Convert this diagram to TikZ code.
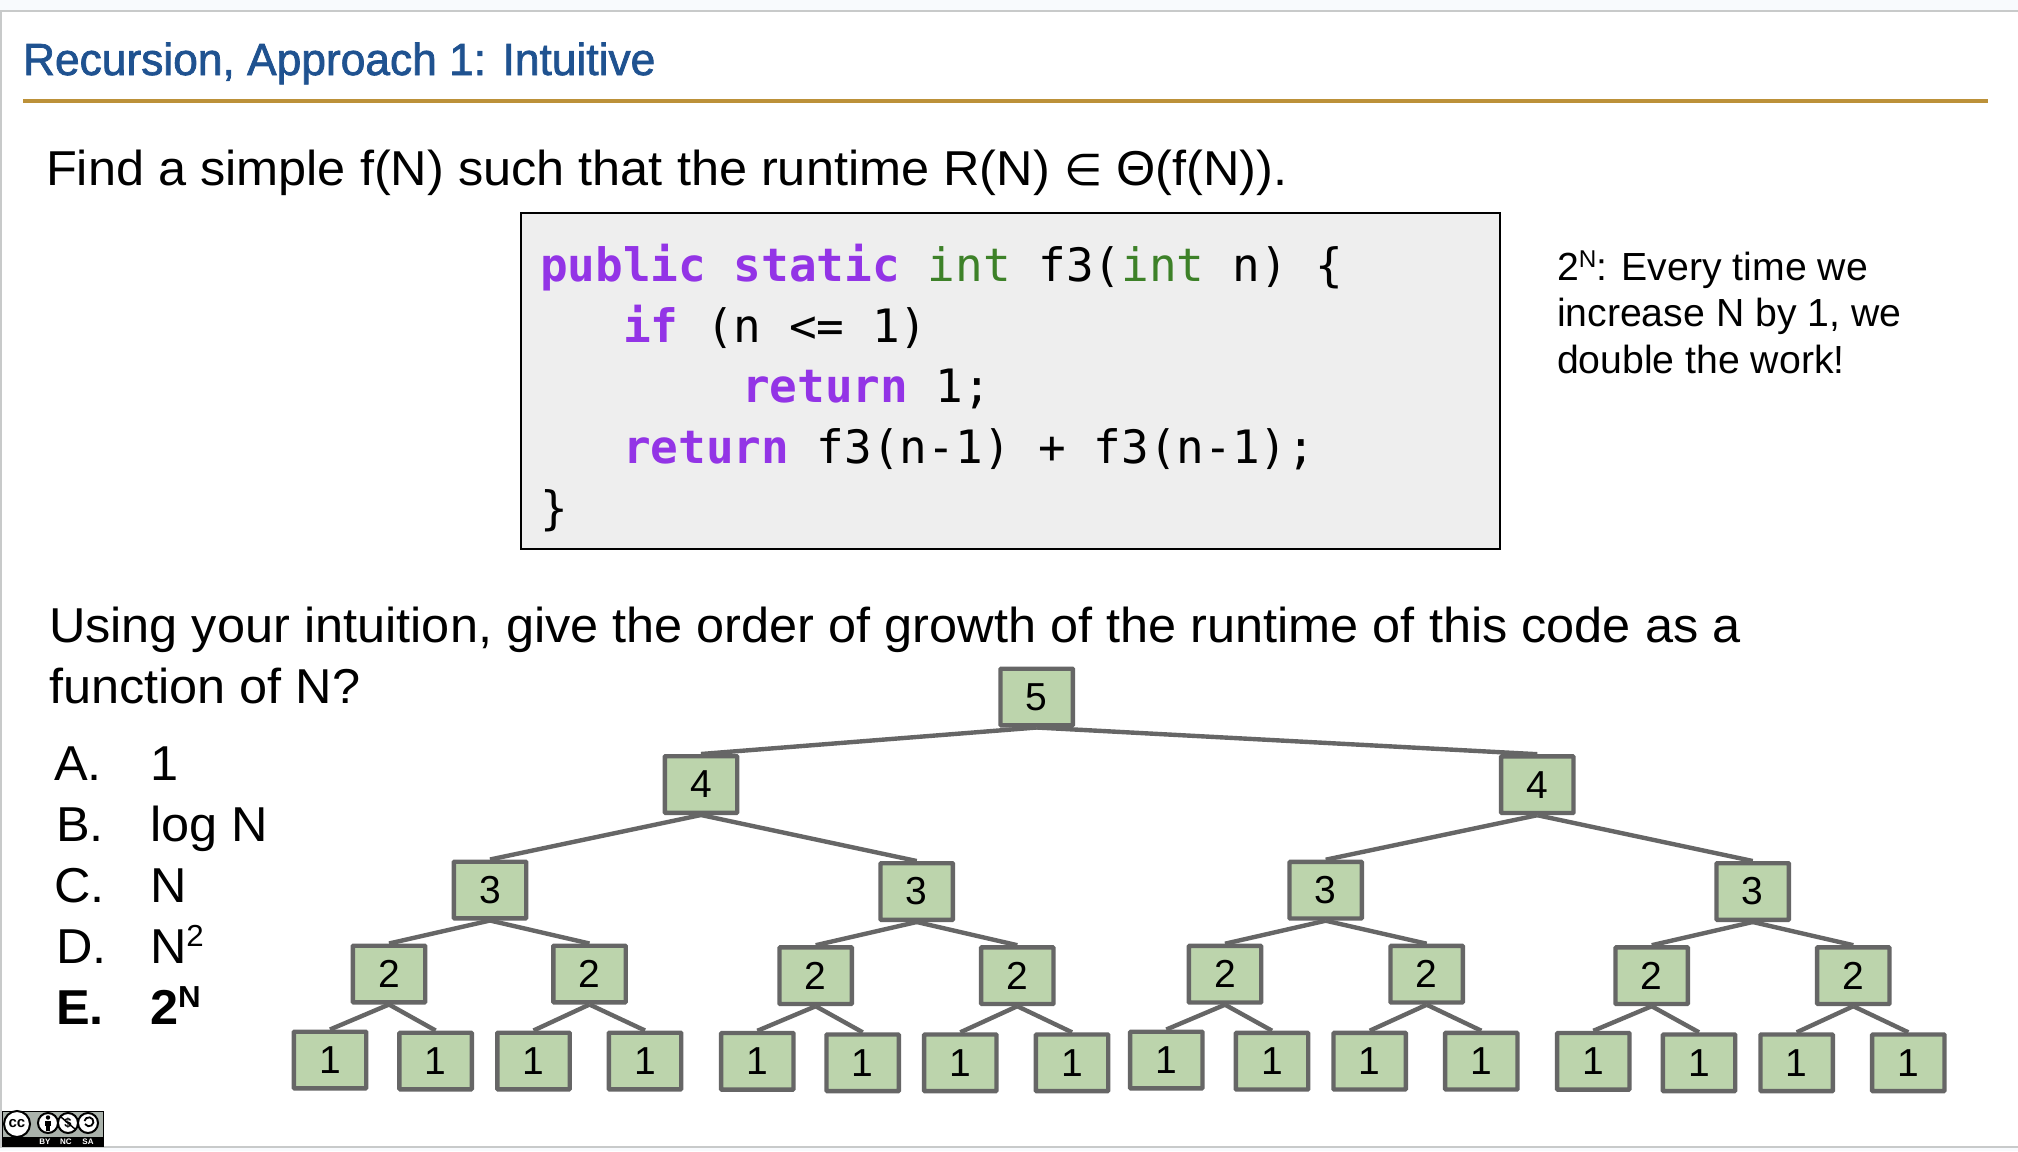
\documentclass[tikz,border=0pt]{standalone}
\usepackage{fontspec}
\setmainfont[FakeStretch=1.03]{Liberation Sans}
\newfontfamily\titlef[FakeStretch=0.985,FakeBold=1.6]{Liberation Sans}
\newfontfamily\arialf{Liberation Sans}
\newfontfamily\dejaf{DejaVu Sans}
\newfontfamily\codef{DejaVu Sans Mono}
\definecolor{titleblue}{HTML}{1F5290}
\definecolor{rulegold}{HTML}{BC9139}
\definecolor{framegrey}{HTML}{C8CACA}
\definecolor{paleback}{HTML}{F8FAFD}
\definecolor{codeback}{HTML}{EEEEEE}
\definecolor{kwpurple}{HTML}{9334E6}
\definecolor{kwgreen}{HTML}{3D8128}
\definecolor{treefill}{HTML}{BCD4AC}
\definecolor{treeline}{HTML}{666666}
\definecolor{ccgrey}{HTML}{AAB2AB}
\newcommand{\fs}[1]{\fontsize{#1pt}{#1pt}\selectfont}
\newcommand{\kw}[1]{\textcolor{kwpurple}{\bfseries #1}}
\newcommand{\ty}[1]{\textcolor{kwgreen}{#1}}
\newcommand{\sr}[2]{\raisebox{#1}{\fontsize{0.62em}{0.62em}\selectfont #2}}
\tikzset{
  txt/.style={anchor=base west,inner sep=0pt,outer sep=0pt},
  body/.style={txt,font=\fs{49}},
  note/.style={txt,font=\arialf\fs{39.2}},
  code/.style={txt,font=\codef\fs{46}},
  tn/.style={rectangle,draw=treeline,fill=treefill,line width=4.4pt,minimum width=72.4pt,minimum height=56.6pt,inner sep=0pt,rounded corners=0.8pt,font=\arialf\fs{39},text=black},
  tl/.style={draw=treeline,line width=4.4pt},
  ccring/.style={draw=black,fill=white,line width=2pt},
  cctxt/.style={inner sep=0pt,text=white,font=\arialf\bfseries\fs{8}},
}
\newcommand{\tnode}[4]{\node[tn] (#1) at (#2,#3) {\raisebox{-1.3pt}{#4}};}
\begin{document}
\begin{tikzpicture}[x=1pt,y=-1pt]
\useasboundingbox (0,0) rectangle (2018,1151);
\fill[white] (0,0) rectangle (2018,1151);
\fill[paleback] (0,0) rectangle (2018,10);
\fill[paleback] (0,1148) rectangle (2018,1151);
\draw[framegrey,line width=2pt] (2018,11) -- (1,11) -- (1,1147) -- (2018,1147);
% title
\node[txt,text=titleblue,font=\titlef\fs{45}] (title) at (23,75) {Recursion, Approach 1: Intuitive};
\fill[rulegold] (23,98.5) rectangle (1988,102.5);
% question
\node[body] (find) at (46,185) {Find a simple f(N) such that the runtime R(N) {\dejaf\fs{44}∈} Θ(f(N)).};
% code
\node[draw=black,fill=codeback,line width=2pt,minimum width=979pt,minimum height=336pt,inner sep=0pt,anchor=north west] (codebox) at (520,212) {};
\node[code] (c1) at (540,281) {\kw{public} \kw{static} \ty{int} f3(\ty{int} n) \{};
\node[code] (c2) at (623,342) {\kw{if} (n <= 1)};
\node[code] (c3) at (742,402) {\kw{return} 1;};
\node[code] (c4) at (623,463) {\kw{return} f3(n-1) + f3(n-1);};
\node[code] (c5) at (540,524) {\}};
% note
\node[note] (n1) at (1557,280) {2\sr{13pt}{N}: Every time we};
\node[note] (n2) at (1557,326.5) {increase N by 1, we};
\node[note] (n3) at (1557,373) {double the work!};
% prompt
\node[body] (u1) at (49,642.5) {Using your intuition, give the order of growth of the runtime of this code as a};
\node[body] (u2) at (49,703.5) {function of N?};
% options
\node[body] (la) at (54,780) {A.};
\node[body] (va) at (150,780) {1};
\node[body] (lb) at (56,841) {B.};
\node[body] (vb) at (150,841) {log N};
\node[body] (lc) at (54,902) {C.};
\node[body] (vc) at (150,902) {N};
\node[body] (ld) at (56,963) {D.};
\node[body] (vd) at (150,963) {N\sr{17pt}{2}};
\node[body,font=\fs{49}\bfseries] (le) at (56,1024) {E.};
\node[body,font=\fs{49}\bfseries] (ve) at (150,1024) {2\sr{17pt}{N}};
% tree nodes
\tnode{r}{1036.7}{697}{5}
\tnode{a}{701}{784.5}{4}
\tnode{b}{1537.3}{784.7}{4}
\tnode{aa}{490}{890}{3}
\tnode{ab}{916.7}{891.5}{3}
\tnode{ba}{1325.7}{890.2}{3}
\tnode{bb}{1752.7}{891.5}{3}
\tnode{aaa}{389}{974}{2}
\tnode{aab}{589.5}{974}{2}
\tnode{aba}{815.7}{975.7}{2}
\tnode{abb}{1017.3}{975.7}{2}
\tnode{baa}{1225}{974.2}{2}
\tnode{bab}{1426.7}{974.2}{2}
\tnode{bba}{1651.7}{975.7}{2}
\tnode{bbb}{1853.3}{975.7}{2}
\tnode{l1}{330}{1060}{1}
\tnode{l2}{435.6}{1061}{1}
\tnode{l3}{533.5}{1061}{1}
\tnode{l4}{645}{1061}{1}
\tnode{l5}{757.3}{1061.3}{1}
\tnode{l6}{862.7}{1062.8}{1}
\tnode{l7}{960.3}{1062.8}{1}
\tnode{l8}{1072}{1062.8}{1}
\tnode{l9}{1166.3}{1060}{1}
\tnode{l10}{1272}{1061.2}{1}
\tnode{l11}{1369.7}{1061.2}{1}
\tnode{l12}{1481.3}{1061.2}{1}
\tnode{l13}{1593.3}{1061.3}{1}
\tnode{l14}{1699}{1062.8}{1}
\tnode{l15}{1796.7}{1062.8}{1}
\tnode{l16}{1908.3}{1062.8}{1}
% connectors
\foreach \p/\c in {r/a,r/b,a/aa,a/ab,b/ba,b/bb,aa/aaa,aa/aab,ab/aba,ab/abb,ba/baa,ba/bab,bb/bba,bb/bbb,
  aaa/l1,aaa/l2,aab/l3,aab/l4,aba/l5,aba/l6,abb/l7,abb/l8,baa/l9,baa/l10,bab/l11,bab/l12,bba/l13,bba/l14,bbb/l15,bbb/l16}
  \draw[tl] (\p.south) -- (\c.north);
% licence badge
\fill[ccgrey] (2,1111) rectangle (103,1146);
\fill[black] (2,1137) rectangle (103,1146);
\draw[black,line width=0.8pt] (2,1111) rectangle (103,1146);
\node[ccring,circle,minimum size=26pt,inner sep=0pt,font=\arialf\bfseries\fs{15}] (cc) at (17,1124) {cc};
\node[ccring,circle,minimum size=20pt,inner sep=0pt] (by) at (48,1123) {};
\node[ccring,circle,minimum size=20pt,inner sep=0pt,font=\arialf\bfseries\fs{13}] (nc) at (68,1123) {\$};
\node[ccring,circle,minimum size=20pt,inner sep=0pt] (sa) at (88,1123) {};
\fill[black] (48,1117.5) circle (2.2pt);
\fill[black] (45.2,1120.5) rectangle (50.8,1126);
\fill[black] (46.3,1126) rectangle (49.7,1130.5);
\draw[black,line width=1.4pt] (61,1117) -- (75,1129);
\draw[black,line width=1.8pt] (84.5,1121) arc[start angle=170,end angle=-150,radius=4.5pt];
\node[cctxt] (tby) at (45,1141.5) {BY};
\node[cctxt] (tnc) at (66,1141.5) {NC};
\node[cctxt] (tsa) at (88,1141.5) {SA};
\end{tikzpicture}
\end{document}
